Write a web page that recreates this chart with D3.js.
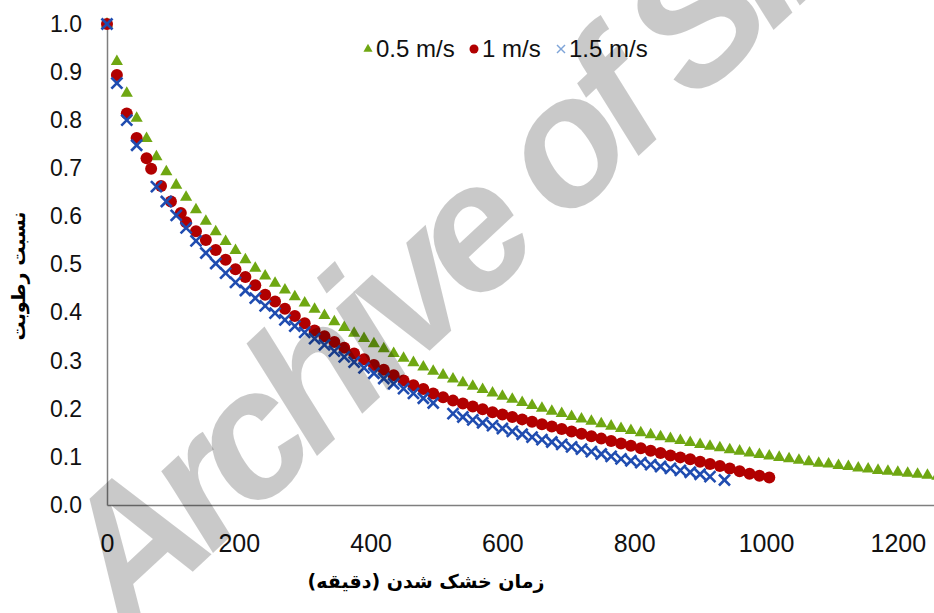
<!DOCTYPE html>
<html>
<head>
<meta charset="utf-8">
<script src="https://cdn.jsdelivr.net/npm/d3@7"></script>
<style>
  html, body { margin: 0; padding: 0; background: #fff; }
  svg { display: block; }
</style>
</head>
<body>
<script>
// drying time (min) and moisture ratio
var greenTime = [0, 15, 30, 45, 60, 75, 90, 105, 120, 135, 150, 165, 180, 195, 210, 225, 240, 255, 270, 285,
    300, 315, 330, 345, 360, 375, 390, 405, 420, 435, 450, 465, 480, 495, 510, 525, 540, 555, 570, 585,
    600, 615, 630, 645, 660, 675, 690, 705, 720, 735, 750, 765, 780, 795, 810, 825, 840, 855, 870, 885,
    900, 915, 930, 945, 960, 975, 990, 1005, 1020, 1035, 1050, 1065, 1080, 1095, 1110, 1125, 1140, 1155,
    1170, 1185, 1200, 1215, 1230, 1245, 1260];
var greenMR = [1.000, 0.922, 0.856, 0.804, 0.762, 0.724, 0.693, 0.665, 0.640, 0.614, 0.590, 0.568, 0.548, 0.529,
    0.510, 0.492, 0.476, 0.461, 0.447, 0.433, 0.420, 0.407, 0.394, 0.381, 0.369, 0.357, 0.346, 0.335, 0.325,
    0.315, 0.305, 0.296, 0.287, 0.278, 0.270, 0.262, 0.254, 0.247, 0.240, 0.233, 0.226, 0.220, 0.213, 0.207,
    0.201, 0.195, 0.190, 0.184, 0.179, 0.174, 0.169, 0.164, 0.159, 0.155, 0.150, 0.146, 0.142, 0.138, 0.134,
    0.130, 0.126, 0.122, 0.119, 0.115, 0.112, 0.108, 0.105, 0.102, 0.099, 0.096, 0.093, 0.090, 0.087, 0.085,
    0.082, 0.080, 0.077, 0.075, 0.072, 0.070, 0.068, 0.066, 0.064, 0.062, 0.060];

var redTime = [0, 15, 30, 45, 60, 67, 82, 97, 112, 120, 135, 150, 165, 180, 195, 210, 225, 240, 255, 270, 285,
    300, 315, 330, 345, 360, 375, 390, 405, 420, 435, 450, 465, 480, 495, 510, 525, 540, 555, 570, 585,
    600, 615, 630, 645, 660, 675, 690, 705, 720, 735, 750, 765, 780, 795, 810, 825, 840, 855, 870, 885,
    900, 915, 930, 945, 960, 975, 990, 1005];
var redMR = [1.000, 0.894, 0.814, 0.763, 0.721, 0.699, 0.663, 0.631, 0.607, 0.588, 0.569, 0.551, 0.530, 0.510,
    0.490, 0.474, 0.457, 0.437, 0.423, 0.408, 0.393, 0.378, 0.363, 0.351, 0.339, 0.327, 0.315, 0.303, 0.291,
    0.281, 0.270, 0.259, 0.249, 0.241, 0.232, 0.224, 0.217, 0.211, 0.205, 0.199, 0.193, 0.188, 0.183, 0.178,
    0.173, 0.168, 0.163, 0.158, 0.153, 0.148, 0.143, 0.138, 0.133, 0.128, 0.123, 0.118, 0.113, 0.108, 0.103,
    0.099, 0.095, 0.090, 0.085, 0.081, 0.076, 0.070, 0.065, 0.061, 0.057];

var blueTime = [0, 15, 30, 45, 75, 90, 105, 120, 135, 150, 165, 180, 195, 210, 225, 240, 255, 270, 285,
    300, 315, 330, 345, 360, 375, 390, 405, 420, 435, 450, 465, 480, 495, 525, 540, 555, 570, 585,
    600, 615, 630, 645, 660, 675, 690, 705, 720, 735, 750, 765, 780, 795, 810, 825, 840, 855, 870, 885,
    900, 915, 937];
var blueMR = [1.000, 0.877, 0.800, 0.748, 0.662, 0.631, 0.602, 0.576, 0.549, 0.524, 0.502, 0.482, 0.463, 0.446,
    0.430, 0.414, 0.399, 0.385, 0.372, 0.359, 0.346, 0.333, 0.320, 0.308, 0.297, 0.285, 0.274, 0.263, 0.252,
    0.242, 0.232, 0.222, 0.212, 0.190, 0.183, 0.177, 0.171, 0.165, 0.159, 0.153, 0.147, 0.141, 0.136, 0.131,
    0.126, 0.121, 0.116, 0.111, 0.106, 0.101, 0.096, 0.092, 0.088, 0.084, 0.080, 0.076, 0.072, 0.068, 0.064,
    0.059, 0.052];

var seriesNames = ['0.5 m/s', '1 m/s', '1.5 m/s'];
var yTicks = [0, 0.1, 0.2, 0.3, 0.4, 0.5, 0.6, 0.7, 0.8, 0.9, 1.0];
var xTicks = [0, 200, 400, 600, 800, 1000, 1200];
var xTitle = 'زمان خشک شدن (دقیقه)';
var yTitle = 'نسبت رطوبت';

var width = 934, height = 613;
var margin = {top: 24, left: 107, bottom: 108};
var font = 'Liberation Sans, Arial, sans-serif';

var green = '#6fa712', red = '#b10000', blue = '#1f4cb0';

var svg = d3.select('body').append('svg')
    .attr('width', width)
    .attr('height', height);

var xScale = d3.scaleLinear().domain([0, 1400]).range([margin.left, margin.left + 1400 * 0.659]);
var yScale = d3.scaleLinear().domain([0, 1]).range([height - margin.bottom, margin.top]);

function zip(ts, vs) {
    return ts.map(function (t, i) { return {t: t, v: vs[i]}; });
}

//y-axis
svg.append('g')
    .attr('transform', 'translate(' + margin.left + ',0)')
    .call(d3.axisLeft(yScale).tickValues(yTicks).tickFormat(d3.format('.1f')).tickSize(0).tickPadding(25))
    .call(function (g) {
        g.select('.domain').attr('stroke', '#7f7f7f').attr('stroke-width', 1.5);
        g.selectAll('text').style('font-family', font).style('font-size', '23px').attr('fill', '#111');
    });

//x-axis
svg.append('g')
    .attr('transform', 'translate(0,' + (height - margin.bottom) + ')')
    .call(d3.axisBottom(xScale).tickValues(xTicks).tickFormat(d3.format('d')).tickSize(0).tickPadding(29))
    .call(function (g) {
        g.select('.domain').attr('stroke', '#7f7f7f').attr('stroke-width', 1.5);
        g.selectAll('text').style('font-family', font).style('font-size', '25px').attr('fill', '#111');
    });

//axis titles
svg.append('text')
    .attr('x', 426)
    .attr('y', 588)
    .attr('text-anchor', 'middle')
    .style('font-family', 'DejaVu Sans, sans-serif')
    .attr('font-weight', 'bold')
    .attr('font-size', 19)
    .attr('direction', 'rtl')
    .text(xTitle);

svg.append('text')
    .attr('transform', 'translate(25,276) rotate(-90)')
    .attr('text-anchor', 'middle')
    .style('font-family', 'DejaVu Sans, sans-serif')
    .attr('font-weight', 'bold')
    .attr('font-size', 19)
    .attr('direction', 'rtl')
    .text(yTitle);

//markers
var triangle = d3.symbol().type(d3.symbolTriangle).size(64);

svg.append('g').selectAll('path')
    .data(zip(greenTime, greenMR))
    .enter().append('path')
    .attr('d', triangle)
    .attr('transform', function (d) { return 'translate(' + xScale(d.t) + ',' + yScale(d.v) + ')'; })
    .attr('fill', green);

svg.append('g').selectAll('circle')
    .data(zip(redTime, redMR))
    .enter().append('circle')
    .attr('cx', function (d) { return xScale(d.t); })
    .attr('cy', function (d) { return yScale(d.v); })
    .attr('r', 6)
    .attr('fill', red);

var crosses = svg.append('g').selectAll('g')
    .data(zip(blueTime, blueMR))
    .enter().append('g')
    .attr('transform', function (d) { return 'translate(' + xScale(d.t) + ',' + yScale(d.v) + ')'; })
    .attr('stroke', blue)
    .attr('stroke-width', 2.6);
crosses.append('line').attr('x1', -5.5).attr('y1', -5.5).attr('x2', 5.5).attr('y2', 5.5);
crosses.append('line').attr('x1', -5.5).attr('y1', 5.5).attr('x2', 5.5).attr('y2', -5.5);

//legend
var legend = svg.append('g').style('font-family', font).style('font-size', '24px').attr('fill', '#111');
var legendX = [368, 474, 561];
legend.append('path')
    .attr('d', d3.symbol().type(d3.symbolTriangle).size(36))
    .attr('transform', 'translate(' + legendX[0] + ',49)')
    .attr('fill', green);
legend.append('circle').attr('cx', legendX[1]).attr('cy', 49).attr('r', 4.5).attr('fill', red);
legend.append('g').attr('transform', 'translate(' + legendX[2] + ',49)')
    .attr('stroke', '#7ea4d8').attr('stroke-width', 1.4)
    .selectAll('line').data([[-4, -4, 4, 4], [-4, 4, 4, -4]])
    .enter().append('line')
    .attr('x1', function (d) { return d[0]; }).attr('y1', function (d) { return d[1]; })
    .attr('x2', function (d) { return d[2]; }).attr('y2', function (d) { return d[3]; });
legend.selectAll('text')
    .data(seriesNames)
    .enter().append('text')
    .attr('x', function (d, i) { return legendX[i] + 8; })
    .attr('y', 57)
    .text(function (d) { return d; });

//watermark
svg.append('text')
    .attr('transform', 'translate(126,634) rotate(-43)')
    .style('font-family', font)
    .style('font-style', 'italic')
    .style('font-weight', 'bold')
    .style('font-size', '180px')
    .style('letter-spacing', '-14px')
    .attr('fill', '#000')
    .attr('fill-opacity', 0.21)
    .text('Archive of SID');
</script>
</body>
</html>
